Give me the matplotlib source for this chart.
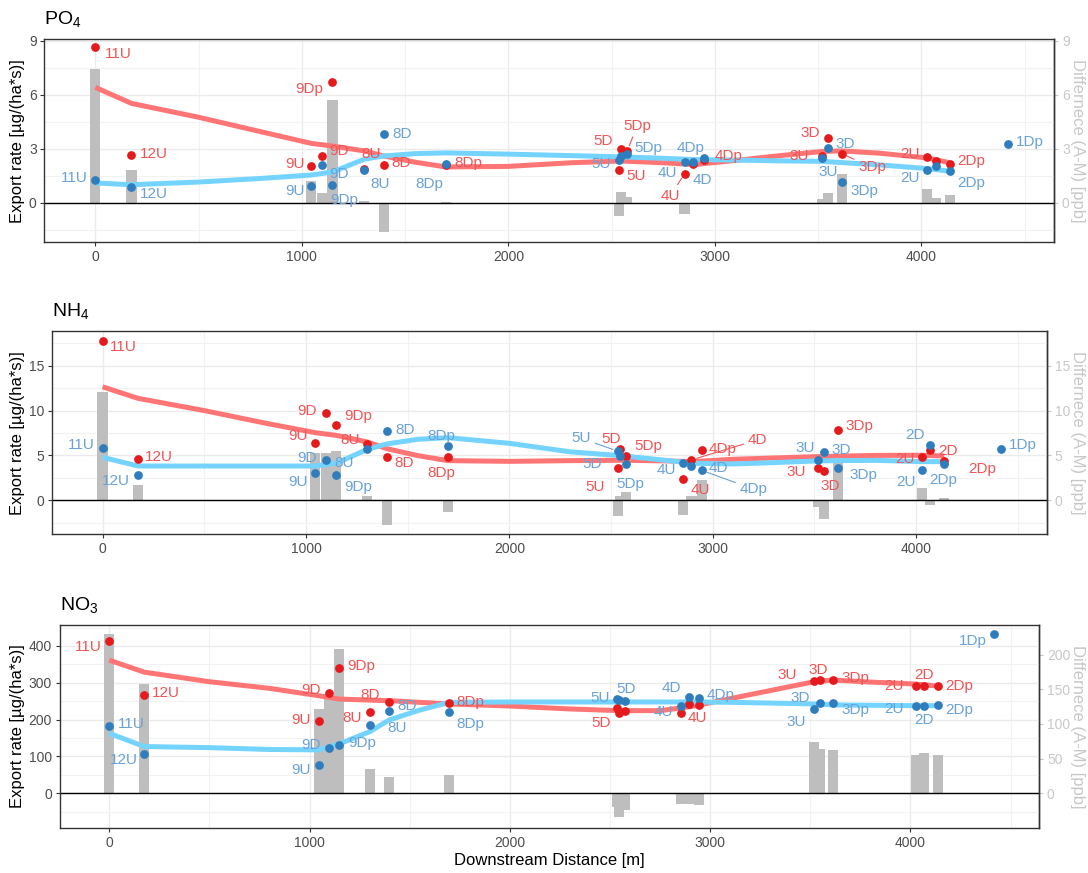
import numpy as np
import matplotlib
matplotlib.use('Agg')
import matplotlib.pyplot as plt

plt.rcParams['font.family'] = ['Liberation Sans', 'DejaVu Sans']
plt.rcParams['mathtext.default'] = 'regular'

# ---------------- data ----------------
sites = ['11U', '12U', '9U', '9D', '9Dp', '8U', '8D', '8Dp', '5U', '5D', '5Dp',
         '4U', '4D', '4Dp', '3U', '3D', '3Dp', '2U', '2D', '2Dp', '1Dp']
distance_m = [0, 175, 1045, 1098, 1148, 1302, 1397, 1698, 2535, 2545, 2575,
              2853, 2895, 2945, 3519, 3546, 3615, 4027, 4068, 4138, 4419]

nan = np.nan
po4_red = [8.65, 2.66, 2.05, 2.62, 6.69, 1.85, 2.10, 2.10, 1.80, 2.99, 2.88,
           1.62, 2.18, 2.40, 2.62, 3.59, 2.71, 2.55, 2.32, 2.18, nan]
po4_blue = [1.25, 0.87, 0.95, 2.10, 1.00, 1.80, 3.83, 2.15, 2.40, 2.60, 2.70,
            2.29, 2.29, 2.47, 2.47, 3.05, 1.13, 1.80, 2.05, 1.75, 3.25]
po4_diff = [7.44, 1.84, 1.19, 0.56, 5.71, 0.07, -1.62, 0.05, -0.76, 0.61, 0.32,
            -0.65, -0.05, 0.0, 0.19, 0.56, 1.60, 0.78, 0.24, 0.43, nan]

nh4_red = [17.79, 4.57, 6.42, 9.73, 8.39, 6.31, 4.83, 4.83, 3.60, 5.76, 4.98,
           2.38, 4.50, 5.58, 3.64, 3.23, 7.81, 4.83, 5.58, 4.39, nan]
nh4_blue = [5.79, 2.78, 3.08, 4.46, 2.86, 5.68, 7.69, 6.05, 5.46, 4.94, 4.09,
            4.16, 3.87, 3.35, 4.50, 5.35, 3.60, 3.35, 6.13, 4.09, 5.69]
nh4_diff = [12.03, 1.75, 5.31, 5.31, 5.46, 0.48, -2.75, -1.26, -1.75, 0.52, 0.89,
            -1.64, 0.52, 2.23, -0.78, -2.12, 4.12, 1.34, -0.52, 0.26, nan]

no3_red = [414.6, 266, 197, 271, 340, 221, 249, 246, 232, 217, 224,
           217, 242.6, 240.8, 304.8, 309, 307.5, 292, 292, 292, nan]
no3_blue = [182, 108, 75.7, 123.5, 132.5, 186, 224.5, 221, 256, 254, 251,
            237, 262.4, 259.7, 229, 246, 245, 238, 236, 239, 432]
no3_diff = [230, 158, 121, 140, 208.6, 34.5, 23.5, 26.4, -19.2, -34.5, -23.5,
            -15.3, -15.3, -17.3, 73.9, 64.3, 62.8, 55.2, 58, 55.2, nan]

# smoothed trend lines
fit_x = [0, 175, 500, 800, 1045, 1148, 1302, 1397, 1550, 1698, 2000, 2300, 2545,
         2750, 2900, 3100, 3300, 3519, 3615, 3800, 4027, 4138]
po4_red_fit = [6.41, 5.52, 4.75, 3.95, 3.30, 3.15, 2.88, 2.60, 2.25, 1.99, 2.02, 2.22,
               2.32, 2.22, 2.12, 2.35, 2.60, 2.85, 2.88, 2.75, 2.49, 2.22]
po4_blue_fit = [1.10, 1.00, 1.15, 1.35, 1.54, 1.71, 2.42, 2.60, 2.73, 2.77, 2.70, 2.62,
                2.55, 2.47, 2.40, 2.37, 2.33, 2.30, 2.23, 2.10, 1.90, 1.75]
nh4_red_fit = [12.65, 11.36, 10.0, 8.6, 7.54, 7.24, 6.50, 5.76, 4.98, 4.42, 4.34, 4.42,
               4.46, 4.40, 4.31, 4.57, 4.72, 4.87, 4.92, 5.00, 5.02, 4.94]
nh4_blue_fit = [4.79, 3.82, 3.82, 3.82, 3.82, 4.12, 5.68, 6.28, 6.80, 6.98, 6.35, 5.40,
                4.98, 4.50, 4.13, 4.05, 4.20, 4.39, 4.42, 4.45, 4.31, 4.31]
no3_red_fit = [361.6, 329, 303, 285, 265, 256, 253, 251.6, 247, 242.6, 237, 229,
               224.5, 224.5, 235, 257, 279, 303, 307.5, 302, 296.7, 291]
no3_blue_fit = [163, 127, 124, 119, 118, 134, 167.7, 199, 226, 247, 248, 248,
                248, 248, 248, 247, 245, 242.6, 240, 239, 238, 238]

# ---------------- label placement (pixel offsets) ----------------
po4_red_lab = {'11U': (23, -7), '12U': (22, 1), '9U': (-16, 2), '9D': (17, 5), '9Dp': (-23, -7),
               '8U': (7, 15), '8D': (17, 2), '8Dp': (22, 2), '5D': (-18, 8), '5Dp': (10, 25),
               '5U': (17, -6), '4U': (-14, -22), '4Dp': (25, 4), '3U': (-23, 0), '3D': (-18, 5),
               '3Dp': (30, -13), '2U': (-17, 3), '2Dp': (21, 3)}
po4_blue_lab = {'11U': (-21, 2), '12U': (22, -7), '9U': (-16, -5), '9D': (17, -9), '9Dp': (12, -15),
                '8U': (16, -14), '8D': (18, 0), '8Dp': (-17, -20), '5U': (-18, -4), '5Dp': (21, 6),
                '4U': (-17, -11), '4D': (9, -18), '4Dp': (-13, 10), '3U': (6, -14), '3D': (17, 4),
                '3Dp': (22, -9), '2U': (-17, -8), '2Dp': (21, -12), '1Dp': (22, 2)}
nh4_red_lab = {'11U': (21, -6), '12U': (21, 2), '9U': (-17, 7), '9D': (-19, 2), '9Dp': (22, 9),
               '8U': (-17, 4), '8D': (17, -6), '8Dp': (-7, -16), '5U': (-23, -19), '5D': (-9, 10),
               '5Dp': (22, 10), '4U': (17, -11), '4D': (66, 20), '4Dp': (21, 1), '3U': (-22, -4),
               '3D': (6, -15), '3Dp': (22, 4), '2U': (-17, -2), '2D': (18, -1), '2Dp': (38, -8)}
nh4_blue_lab = {'11U': (-21, 3), '12U': (-22, -6), '9U': (-17, -9), '9D': (-19, 2), '9Dp': (22, -12),
                '8U': (-23, -14), '8D': (18, 1), '8Dp': (-7, 10), '5U': (-37, 13), '5D': (-28, -8),
                '5Dp': (4, -20), '4U': (-17, -7), '4D': (27, -2), '4Dp': (52, -19), '3U': (-13, 12),
                '3D': (17, 2), '3Dp': (26, -7), '2U': (-16, -12), '2D': (-15, 10), '2Dp': (-1, -16),
                '1Dp': (21, 4)}
no3_red_lab = {'11U': (-21, -6), '12U': (22, 2), '9U': (-18, 1), '9D': (-18, 3), '9Dp': (22, 2),
               '8U': (-18, -6), '8D': (-19, 7), '8Dp': (21, 1), '5D': (-18, -10), '4U': (17, -5),
               '3U': (-27, 6), '3D': (-1, 10), '3Dp': (22, 2), '2U': (-22, 0), '2D': (0, 11),
               '2Dp': (21, 0)}
no3_blue_lab = {'11U': (22, 2), '12U': (-20, -6), '9U': (-18, -5), '9D': (-18, 3), '9Dp': (23, 2),
                '8U': (27, -3), '8D': (18, 5), '8Dp': (21, -12), '5U': (-17, 1), '5D': (7, 11),
                '4U': (-17, -6), '4D': (-18, 9), '4Dp': (21, 3), '3U': (-18, -13), '3D': (-19, 5),
                '3Dp': (22, -7), '2U': (-22, -3), '2D': (0, -14), '2Dp': (21, -5), '1Dp': (-22, -7)}
leaders = {('PO4', 'red'): {'5Dp', '4U', '3Dp'},
           ('NH4', 'red'): {'4D'},
           ('NH4', 'blue'): {'5U', '4Dp'}}

# ---------------- styling ----------------
W, H = 1088, 873
RED_PT, BLUE_PT = '#E41A1C', '#2F7DBD'
RED_TXT, BLUE_TXT = '#EF5556', '#6AA2D6'
RED_LN, BLUE_LN = '#FF7575', '#74D4FF'
BAR_C = '#BEBEBE'
GRID_C = '#EBEBEB'
TICK_C = '#4D4D4D'
SEC_C = '#C8C8C8'
XLIM = (-247, 4643)

panels = [
    dict(key='PO4', title='PO$_4$', red=po4_red, blue=po4_blue, diff=po4_diff,
         rfit=po4_red_fit, bfit=po4_blue_fit, rlab=po4_red_lab, blab=po4_blue_lab,
         box=(44.3, 39.3, 1054.3, 242.0), ylim=(-2.18, 9.08), yt=[0, 3, 6, 9],
         ym=[-1.5, 1.5, 4.5, 7.5], k=1.0, rt=[0, 3, 6, 9]),
    dict(key='NH4', title='NH$_4$', red=nh4_red, blue=nh4_blue, diff=nh4_diff,
         rfit=nh4_red_fit, bfit=nh4_blue_fit, rlab=nh4_red_lab, blab=nh4_blue_lab,
         box=(52.3, 331.0, 1047.0, 534.3), ylim=(-3.79, 18.87), yt=[0, 5, 10, 15],
         ym=[-2.5, 2.5, 7.5, 12.5, 17.5], k=1.0, rt=[0, 5, 10, 15]),
    dict(key='NO3', title='NO$_3$', red=no3_red, blue=no3_blue, diff=no3_diff,
         rfit=no3_red_fit, bfit=no3_blue_fit, rlab=no3_red_lab, blab=no3_blue_lab,
         box=(59.7, 624.7, 1039.3, 828.0), ylim=(-94.2, 457.8), yt=[0, 100, 200, 300, 400],
         ym=[-50, 50, 150, 250, 350, 450], k=1.884, rt=[0, 50, 100, 150, 200]),
]

fig = plt.figure(figsize=(W / 100, H / 100), dpi=100)

x = np.array(distance_m, dtype=float)
for i, p in enumerate(panels):
    l, t, r, b = p['box']
    ax = fig.add_axes([l / W, 1 - b / H, (r - l) / W, (b - t) / H])
    ax.set_xlim(*XLIM)
    ax.set_ylim(*p['ylim'])
    ax.set_xticks([0, 1000, 2000, 3000, 4000])
    ax.set_xticks([500, 1500, 2500, 3500, 4500], minor=True)
    ax.set_yticks(p['yt'])
    ax.set_yticks(p['ym'], minor=True)
    ax.grid(which='major', color=GRID_C, lw=1.0, zorder=0)
    ax.grid(which='minor', color='#F2F2F2', lw=0.8, zorder=0)
    ax.set_axisbelow(True)
    ax.tick_params(which='minor', length=0)
    ax.tick_params(which='major', length=3, width=0.8, color='#333333',
                   labelcolor=TICK_C, labelsize=10, pad=2.5)
    ax.tick_params(axis='y', right=False)
    for s in ax.spines.values():
        s.set_color('#333333')
        s.set_linewidth(1.0)

    k = p['k']
    diff = np.array(p['diff'], dtype=float)
    ok = ~np.isnan(diff)
    ax.bar(x[ok], diff[ok] * k, width=50, color=BAR_C, zorder=1)
    ax.axhline(0, color='black', lw=1.0, zorder=2)

    ax.plot(fit_x, p['rfit'], color=RED_LN, lw=3.6, solid_capstyle='butt', zorder=3)
    ax.plot(fit_x, p['bfit'], color=BLUE_LN, lw=3.6, solid_capstyle='butt', zorder=3)

    red = np.array(p['red'], dtype=float)
    blue = np.array(p['blue'], dtype=float)
    ax.plot(x, red, 'o', color=RED_PT, ms=6.3, mec='none', zorder=4)
    ax.plot(x, blue, 'o', color=BLUE_PT, ms=6.3, mec='none', zorder=4)

    for vals, labs, col, cname in [(red, p['rlab'], RED_TXT, 'red'),
                                   (blue, p['blab'], BLUE_TXT, 'blue')]:
        lead = leaders.get((p['key'], cname), set())
        for j, s in enumerate(sites):
            if s not in labs or np.isnan(vals[j]):
                continue
            dx, dy = labs[s]
            kw = {}
            if s in lead:
                kw['arrowprops'] = dict(arrowstyle='-', color=col, lw=0.8,
                                        shrinkA=1, shrinkB=4)
            ax.annotate(s, xy=(x[j], vals[j]), xytext=(dx, dy), textcoords='offset pixels',
                        ha='center', va='center', color=col, fontsize=11, zorder=5, **kw)

    sec = ax.secondary_yaxis('right', functions=(lambda y, k=k: y / k, lambda y, k=k: y * k))
    sec.set_yticks(p['rt'])
    sec.tick_params(length=3, width=0.8, color=SEC_C, labelcolor=SEC_C, labelsize=10, pad=2.5)
    sec.spines['right'].set_color('#333333')
    sec.spines['right'].set_linewidth(1.0)

    # titles and axis titles
    fig.text(l / W, 1 - (t - 15) / H, p['title'], fontsize=14, ha='left', va='baseline')
    fig.text(17.5 / W, 1 - ((t + b) / 2) / H, 'Export rate [µg/(ha*s)]', rotation=90,
             ha='center', va='center', fontsize=12)
    fig.text(1077 / W, 1 - ((t + b) / 2) / H, 'Differnece (A-M) [ppb]', rotation=-90,
             ha='center', va='center', fontsize=12, color=SEC_C)

fig.text(549.5 / W, 1 - 861 / H, 'Downstream Distance [m]', ha='center', va='center',
         fontsize=12)

fig.savefig('out.png', dpi=100)
